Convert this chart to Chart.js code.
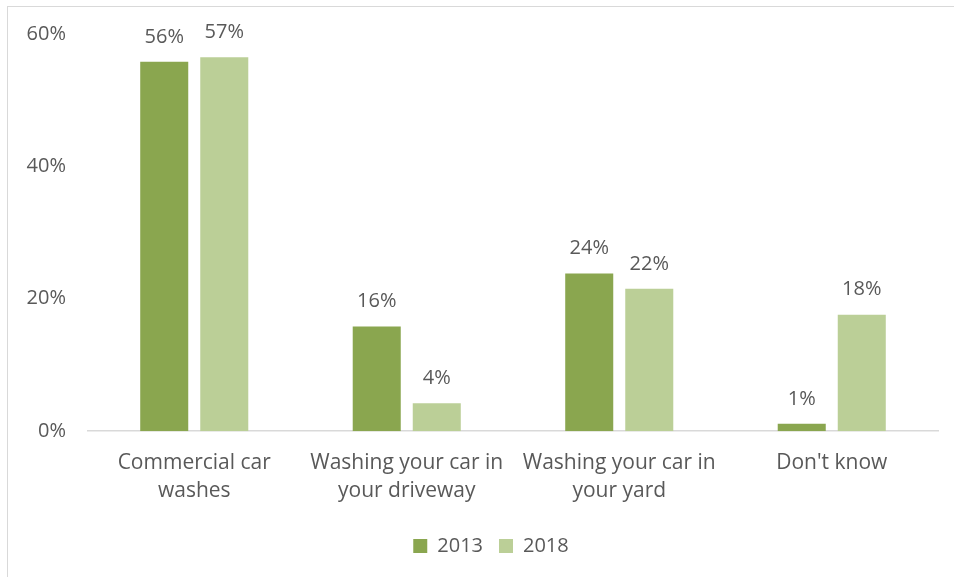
<!DOCTYPE html>
<html>
<head>
<meta charset="utf-8">
<script src="https://cdn.jsdelivr.net/npm/chart.js@4/dist/chart.umd.min.js"></script>
<style>
  html, body { margin: 0; padding: 0; background: #fff; overflow: hidden; }
  #frame { position: absolute; left: 7px; top: 6px; width: 980px; height: 600px; border: 1.5px solid #d9d9d9; box-sizing: border-box; }
  #wrap { position: absolute; left: 0; top: 0; width: 954px; height: 577px; }
</style>
</head>
<body>
<div id="frame"></div>
<div id="wrap"><canvas id="c" width="954" height="577"></canvas></div>
<script>
// Where people wash their cars, share of respondents
const categories = [
  ['Commercial car', 'washes'],
  ['Washing your car in', 'your driveway'],
  ['Washing your car in', 'your yard'],
  ["Don't know"]
];
const seriesNames = ['2013', '2018'];
const values2013 = [55.8, 15.8, 23.8, 1.1];
const values2018 = [56.5, 4.2, 21.5, 17.6];
const yTicks = [0, 20, 40, 60];

const textColor = '#595959';
const fontFamily = '"Open Sans", "Segoe UI", sans-serif';

// Draws the rounded percentage above each bar
const valueLabels = {
  id: 'valueLabels',
  afterDatasetsDraw(chart) {
    const ctx = chart.ctx;
    ctx.save();
    ctx.fillStyle = textColor;
    ctx.font = '20px ' + fontFamily;
    ctx.textAlign = 'center';
    ctx.textBaseline = 'middle';
    chart.data.datasets.forEach((ds, di) => {
      chart.getDatasetMeta(di).data.forEach((bar, i) => {
        ctx.fillText(Math.round(ds.data[i]) + '%', bar.x, bar.y - 25);
      });
    });
    ctx.restore();
  }
};

// Nudges the legend a little to the right of the canvas centre
const legendShift = {
  id: 'legendShift',
  afterLayout(chart) {
    const lg = chart.legend;
    if (lg) { lg.left += 22; lg.right += 22; }
  }
};

new Chart(document.getElementById('c'), {
  type: 'bar',
  data: {
    labels: categories,
    datasets: [
      { label: seriesNames[0], data: values2013, backgroundColor: '#8aa64f' },
      { label: seriesNames[1], data: values2018, backgroundColor: '#bbcf97' }
    ]
  },
  options: {
    responsive: false,
    animation: false,
    devicePixelRatio: 1,
    layout: { padding: { left: 0, right: 16, top: 34, bottom: 11 } },
    datasets: { bar: { categoryPercentage: 0.565, barPercentage: 0.8 } },
    plugins: {
      legend: {
        position: 'bottom',
        labels: {
          color: textColor,
          font: { family: fontFamily, size: 20 },
          boxWidth: 14,
          boxHeight: 14,
          padding: 16
        }
      },
      tooltip: { enabled: false }
    },
    scales: {
      x: {
        afterFit(scale) { scale.height += 5; },
        grid: { display: false },
        border: { display: true, color: '#d9d9d9', width: 1.5 },
        ticks: {
          color: textColor,
          font: { family: fontFamily, size: 21, lineHeight: 1.33 },
          padding: 10,
          maxRotation: 0,
          autoSkip: false
        }
      },
      y: {
        min: 0,
        max: 60,
        afterBuildTicks(scale) { scale.ticks = yTicks.map(v => ({ value: v })); },
        afterFit(scale) { scale.width = 88; },
        grid: { display: false },
        border: { display: false },
        ticks: {
          color: textColor,
          font: { family: fontFamily, size: 20 },
          padding: 14,
          callback: v => v + '%'
        }
      }
    }
  },
  plugins: [valueLabels, legendShift]
});
</script>
</body>
</html>
